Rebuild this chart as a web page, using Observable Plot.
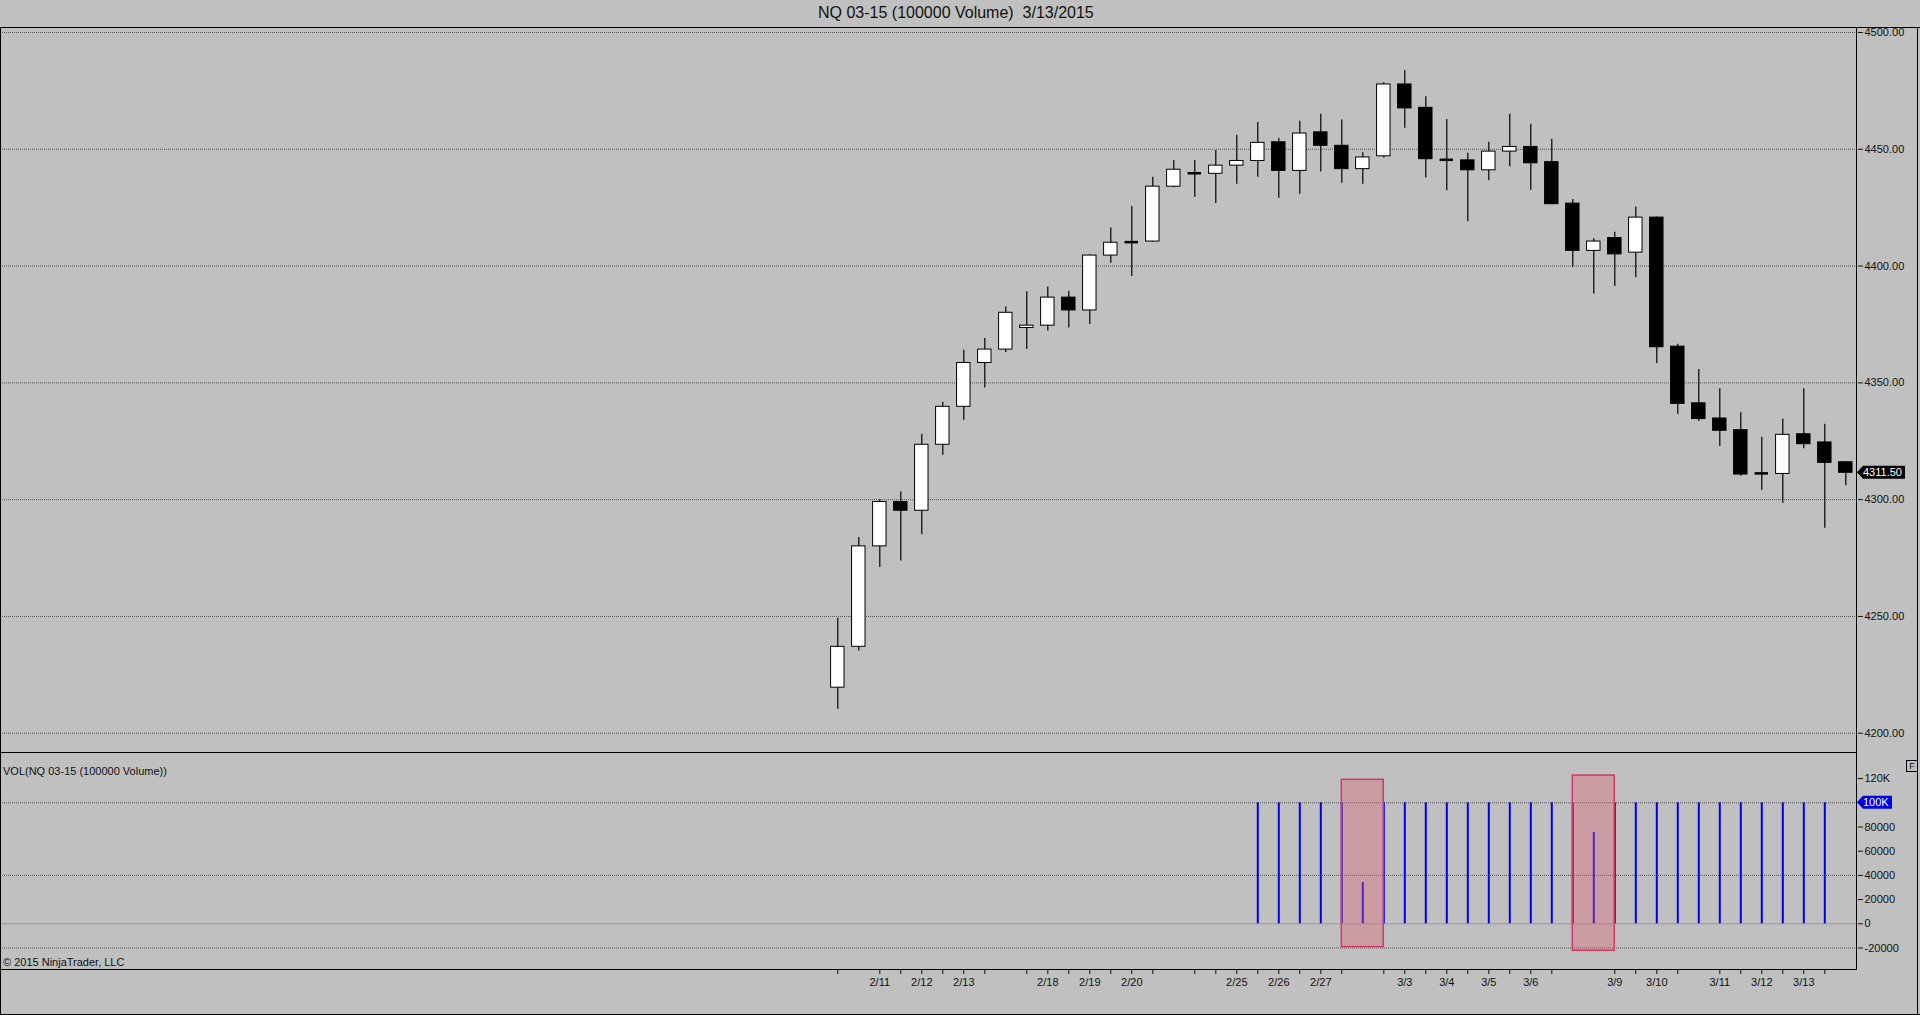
<!DOCTYPE html>
<html>
<head>
<meta charset="utf-8">
<script src="https://cdn.jsdelivr.net/npm/d3@7"></script>
<script src="https://cdn.jsdelivr.net/npm/@observablehq/plot@0.6"></script>
<style>
  html, body { margin: 0; padding: 0; background: #c0c0c0; }
  #wrap { position: relative; width: 1920px; height: 1015px; overflow: hidden; background: #c0c0c0;
          font-family: "Liberation Sans", Arial, sans-serif; color: #111; }
  #wrap > div, #wrap > svg { position: absolute; }
  .ln { background: #000; }
  .txt { font-size: 11px; line-height: 11px; white-space: pre; }
</style>
</head>
<body>
<div id="wrap">
  <div id="title" style="left:818px; top:5px; font-size:16px; line-height:16px; white-space:pre;">NQ 03-15 (100000 Volume)  3/13/2015</div>
  <div id="price_chart" style="left:0; top:27px;"></div>
  <div id="vol_chart" style="left:0; top:752px;"></div>
  <div class="txt" style="left:3px; top:766px;">VOL(NQ 03-15 (100000 Volume))</div>
  <div class="txt" style="left:3px; top:957px;">© 2015 NinjaTrader, LLC</div>
  <div style="left:1906px; top:760px; width:10px; height:10px; border:1px solid #000; font-size:9px; line-height:10px; text-align:center;">F</div>
  <!-- chart chrome -->
  <div class="ln" style="left:0; top:27px; width:1920px; height:1px;"></div>
  <div class="ln" style="left:0; top:752px; width:1857px; height:1px;"></div>
  <div class="ln" style="left:0; top:969px; width:1857px; height:1px;"></div>
  <div class="ln" style="left:0; top:1014px; width:1920px; height:1px;"></div>
  <div class="ln" style="left:0; top:27px; width:1px; height:988px;"></div>
  <div class="ln" style="left:1856px; top:27px; width:1px; height:943px;"></div>
  <div class="ln" style="left:1917px; top:27px; width:1px; height:988px;"></div>
</div>
<script>
// OHLC per bar (100000 volume bars)
const open = [4219.5, 4237.0, 4280.0, 4299.0, 4295.25, 4323.5, 4339.75, 4358.5, 4364.25, 4373.5,
  4374.5, 4386.5, 4381.0, 4404.5, 4410.25, 4410.5, 4434.0, 4439.75, 4439.5, 4443.0,
  4445.0, 4453.0, 4440.75, 4457.25, 4451.5, 4441.5, 4447.0, 4477.75, 4467.75, 4445.5,
  4445.25, 4441.0, 4449.0, 4451.0, 4444.5, 4426.75, 4406.5, 4412.0, 4405.75, 4420.75,
  4365.5, 4341.25, 4334.75, 4329.75, 4311.25, 4311.0, 4328.0, 4324.5, 4316.0]
const high = [4249.25, 4283.75, 4300.0, 4303.25, 4328.0, 4341.75, 4364.0, 4369.0, 4382.5, 4389.0,
  4391.0, 4389.25, 4404.75, 4416.25, 4425.5, 4438.0, 4445.25, 4445.25, 4449.5, 4456.0,
  4461.5, 4454.75, 4462.0, 4465.0, 4462.5, 4448.5, 4478.5, 4483.75, 4472.5, 4462.75,
  4448.25, 4453.0, 4465.0, 4460.75, 4454.25, 4428.5, 4411.75, 4414.5, 4425.25, 4421.0,
  4366.5, 4355.75, 4347.5, 4337.25, 4326.75, 4334.5, 4347.5, 4332.25, 4316.25]
const low = [4210.25, 4235.25, 4271.0, 4273.75, 4285.0, 4319.0, 4334.0, 4347.75, 4363.0, 4364.25,
  4372.25, 4373.5, 4375.0, 4401.25, 4395.5, 4410.25, 4433.5, 4429.5, 4426.75, 4435.0,
  4438.0, 4429.0, 4430.75, 4440.25, 4435.5, 4435.0, 4446.25, 4459.0, 4437.75, 4432.25,
  4419.0, 4436.5, 4442.5, 4432.5, 4426.25, 4399.5, 4388.0, 4391.25, 4395.0, 4358.25,
  4336.5, 4333.5, 4322.75, 4310.0, 4304.0, 4298.5, 4321.75, 4287.75, 4306.0]
const close = [4237.0, 4280.0, 4299.0, 4295.25, 4323.5, 4339.75, 4358.5, 4364.25, 4380.0, 4374.5,
  4386.5, 4381.0, 4404.5, 4410.0, 4410.25, 4434.0, 4441.25, 4439.75, 4443.0, 4445.0,
  4452.75, 4440.75, 4456.75, 4451.5, 4441.5, 4446.5, 4477.75, 4467.5, 4445.75, 4445.5,
  4441.0, 4449.0, 4451.0, 4444.0, 4426.5, 4406.5, 4410.5, 4405.0, 4420.75, 4365.25,
  4341.0, 4334.5, 4329.5, 4310.75, 4311.25, 4327.75, 4323.75, 4315.75, 4311.5]

// volume (no data shown for the first 20 bars and the last one)
const volume = [null, null, null, null, null, null, null, null, null, null,
  null, null, null, null, null, null, null, null, null, null,
  100000, 100000, 100000, 100000, 100000, 34000, 100000, 100000, 100000, 100000,
  100000, 100000, 100000, 100000, 100000, 100000, 75500, 100000, 100000, 100000,
  100000, 100000, 100000, 100000, 100000, 100000, 100000, 100000, null]

// date axis
const tickIdx = [0, 2, 3, 4, 5, 6, 7, 9, 10, 11, 12, 13, 14, 15, 17, 18, 19, 20, 21, 22, 23, 24,
  26, 27, 28, 29, 30, 31, 32, 33, 34, 37, 38, 39, 40, 42, 43, 44, 45, 46, 47]
const labelIdx = [2, 4, 6, 10, 12, 14, 19, 21, 23, 27, 29, 31, 33, 37, 39, 42, 44, 46]
const labelText = ["2/11", "2/12", "2/13", "2/18", "2/19", "2/20", "2/25", "2/26", "2/27",
  "3/3", "3/4", "3/5", "3/6", "3/9", "3/10", "3/11", "3/12", "3/13"]

const priceTicks = [4200, 4250, 4300, 4350, 4400, 4450, 4500]
const volTicks = [120000, 100000, 80000, 60000, 40000, 20000, 0, -20000]
const volGrid = [100000, 40000, -20000]

// highlight boxes drawn on the volume panel
const boxes = [
  {x1: 24, x2: 26, y1: -19300, y2: 119000},
  {x1: 35, x2: 37, y1: -22300, y2: 122500}
]

const bars = open.map((o, i) => ({i, o, h: high[i], l: low[i], c: close[i], v: volume[i]}))
const xDomain = [-39.871, 48.557]
const font = "'Liberation Sans', Arial, sans-serif"
const hw = 0.32

let price = Plot.plot({
  width: 1920, height: 725,
  marginLeft: 0, marginRight: 63, marginTop: 0, marginBottom: 0,
  style: {background: "transparent", fontFamily: font, fontSize: "11px", color: "#111", overflow: "visible"},
  x: {domain: xDomain, axis: null},
  y: {domain: [4191.75, 4502.14]},
  marks: [
    Plot.ruleY(priceTicks, {stroke: "#555", strokeDasharray: "1,1", strokeWidth: 1}),
    Plot.ruleX(bars, {x: "i", y1: "l", y2: "h", stroke: "#000", strokeWidth: 1.2}),
    Plot.rect(bars.filter(d => d.c !== d.o), {
      x1: d => d.i - hw, x2: d => d.i + hw, y1: "o", y2: "c",
      fill: d => d.c > d.o ? "#fff" : "#000", stroke: "#000", strokeWidth: 1
    }),
    Plot.ruleY(bars.filter(d => d.c === d.o), {
      y: "c", x1: d => d.i - hw, x2: d => d.i + hw, stroke: "#000", strokeWidth: 2.5
    }),
    Plot.axisY(priceTicks, {anchor: "right", tickSize: 5, tickPadding: 2, label: null,
      tickFormat: d => d.toFixed(2)})
  ]
})
d3.select('#price_chart').append(() => price)

let vol = Plot.plot({
  width: 1920, height: 262,
  marginLeft: 0, marginRight: 63, marginTop: 0, marginBottom: 45,
  style: {background: "transparent", fontFamily: font, fontSize: "11px", color: "#111", overflow: "visible"},
  x: {domain: xDomain},
  y: {domain: [-37770, 141570]},
  marks: [
    Plot.ruleY(volGrid, {stroke: "#555", strokeDasharray: "1,1", strokeWidth: 1}),
    Plot.ruleY([0], {stroke: "#999", strokeWidth: 1}),
    Plot.ruleX(bars.filter(d => d.v != null), {x: "i", y1: 0, y2: "v", stroke: "#0000e6", strokeWidth: 2}),
    Plot.rect(boxes, {x1: "x1", x2: "x2", y1: "y1", y2: "y2",
      fill: "#e0607a", fillOpacity: 0.38, stroke: "#d03a60", strokeWidth: 1.5}),
    Plot.axisY(volTicks, {anchor: "right", tickSize: 5, tickPadding: 2, label: null,
      tickFormat: d => d === 120000 ? "120K" : d === 100000 ? "" : String(d)}),
    Plot.axisX(tickIdx, {anchor: "bottom", tickSize: 5, label: null, tickFormat: () => ""}),
    Plot.axisX(labelIdx, {anchor: "bottom", tickSize: 0, tickPadding: 9, label: null,
      tickFormat: d => labelText[labelIdx.indexOf(d)]})
  ]
})
d3.select('#vol_chart').append(() => vol)

// last price marker and the 100K marker on the right scales
function marker(chart, value, text, fill, w) {
  const svg = d3.select(chart.tagName === "svg" ? chart : chart.querySelector("svg"))
  const x0 = chart.scale("x").apply(xDomain[1])
  const y = chart.scale("y").apply(value)
  svg.append("path")
    .attr("d", `M${x0},${y} L${x0 + 6},${y - 6.5} L${x0 + w},${y - 6.5} L${x0 + w},${y + 6.5} L${x0 + 6},${y + 6.5} Z`)
    .attr("fill", fill)
  svg.append("text")
    .attr("x", x0 + 6).attr("y", y).attr("dy", "0.36em")
    .attr("text-anchor", "start")
    .attr("fill", "#fff").attr("font-size", 11)
    .text(text)
}
marker(price, close[close.length - 1], "4311.50", "#000", 48)
marker(vol, 100000, "100K", "#0000e6", 35)
</script>
</body>
</html>
